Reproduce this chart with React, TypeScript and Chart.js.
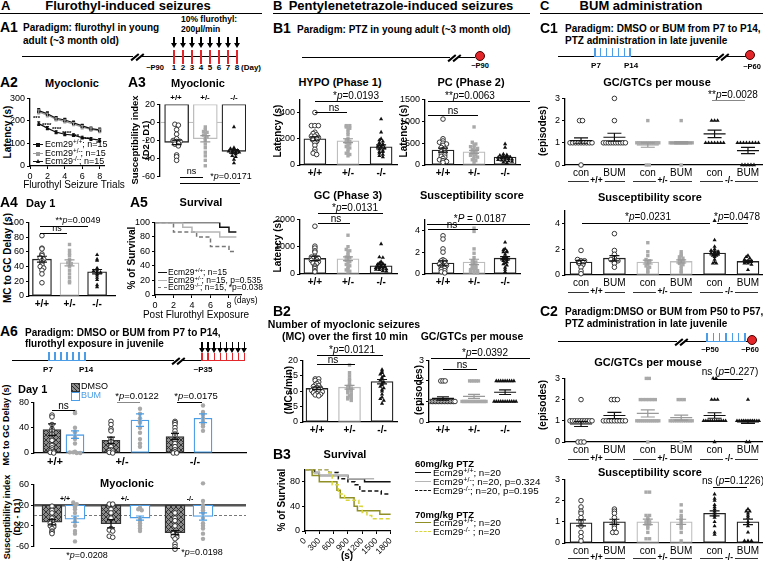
import React, { useEffect, useRef } from 'react';
import { Chart, registerables } from 'chart.js';
Chart.register(...registerables);

const FONT = "'Liberation Sans', Arial, Helvetica, sans-serif";
Chart.defaults.font.family = FONT;
Chart.defaults.font.size = 9;
Chart.defaults.color = '#000';

// ---------------- DATA ----------------
// A2 flurothyl trials (latency, s)
const A2_TRIALS = [1, 2, 3, 4, 5, 6, 7, 8];
const A2_WT = [246, 232, 212, 204, 192, 178, 166, 160];
const A2_HET = [240, 226, 207, 198, 186, 172, 162, 156];
const A2_KO = [188, 168, 150, 141, 137, 126, 120, 115];
const A2_WT_SEM = [9, 8, 7, 7, 7, 7, 7, 8];
const A2_HET_SEM = [9, 8, 7, 7, 7, 7, 7, 8];
const A2_KO_SEM = [8, 7, 6, 6, 6, 6, 6, 7];
const A2_XTICKS = [0, 2, 4, 6, 8];
const A2_YTICKS = [0, 100, 200, 300];

// A3 susceptibility index
const A3_WT = [-2, -3, -8, -13, -18, -20, -21, -21, -22, -23, -24, -26, -36, -38, -42];
const A3_HET = [-5, -8, -10, -11, -12, -14, -16, -18, -20, -24, -28, -33, -37, -42, -48];
const A3_KO = [-5, -28, -29, -30, -31, -32, -32, -33, -33, -34, -35, -37, -38, -41, -45];
const A3_MEAN = [-22, -18, -32];
const A3_SEM = [2.5, 3.5, 2];
const A3_YTICKS = [-60, -40, -20, 0, 20];

// A4 MC to GC delay, day 1
const A4_WT = [82, 65, 64, 57, 55, 52, 50, 48, 45, 42, 40, 38, 35, 30, 18];
const A4_HET = [70, 62, 58, 55, 50, 48, 45, 44, 42, 40, 35, 30, 25, 20, 18];
const A4_KO = [56, 50, 48, 38, 36, 34, 33, 32, 30, 28, 25, 22, 15, 12];
const A4_MEAN = [50, 45, 33];
const A4_SEM = [4, 4, 3];
const A4_YTICKS = [0, 20, 40, 60, 80, 100];

// A5 survival (days, %)
const A5_WT_T = [0, 7, 8, 8.8];
const A5_WT_S = [100, 93.3, 86.7, 86.7];
const A5_HET_T = [0, 3, 4, 7, 8.8];
const A5_HET_S = [100, 93.3, 86.7, 80, 80];
const A5_KO_T = [0, 2, 4.5, 6, 8, 8.8];
const A5_KO_S = [100, 86.7, 80, 66.7, 60, 60];
const A5_XTICKS = [0, 2, 4, 6, 8];
const A5_YTICKS = [0, 20, 40, 60, 80, 100];

// A6 (order: DMSO +/+, BUM +/+, DMSO +/-, BUM +/-, DMSO -/-, BUM -/-)
const A6_DAY1 = [
  [60, 57, 45, 38, 35, 30, 20, 12, 8, 5, 3, 2, 1, 0],
  [65, 63, 40, 33, 25, 22, 15, 2, 1, 1, 0, 0],
  [50, 45, 38, 35, 22, 18, 12, 10, 5, 4, 3, 1, 0],
  [70, 62, 55, 50, 48, 40, 32, 22, 15, 10],
  [50, 48, 45, 40, 35, 30, 28, 20, 15, 10, 5, 2, 0, 0],
  [75, 65, 62, 60, 55, 50, 48, 45, 42, 35],
];
const A6_DAY1_MEAN = [37, 29, 20, 52, 26, 55];
const A6_DAY1_SEM = [9, 6, 5, 10, 5, 7];
const A6_DAY1_YTICKS = [0, 20, 40, 60, 80];
const A6_MYO = [
  [18, 10, 5, -5, -10, -15, -18, -20, -22, -25, -30, -32, -35],
  [25, 22, 18, 15, 12, 5, -5, -12, -20, -30, -35, -50],
  [22, 22, 12, 5, -5, -25, -28, -30, -40, -42],
  [15, 12, 10, -5, -10, -15, -20, -25, -30],
  [5, -5, -10, -20, -35, -38, -40, -42, -45, -55, -60, -65],
  [62, 28, 20, 15, 10, 5, -5, -15, -20, -25, -35, -45],
];
const A6_MYO_MEAN = [-13, -7, -16, -5, -33, -2];
const A6_MYO_SEM = [5, 6, 8, 4, 4, 7];
const A6_MYO_YTICKS = [-60, -40, -20, 0, 20, 40, 60];
const A6_GENO = ['+/+', '+/-', '-/-'];

// B1
const HYPO_WT = [400, 300, 300, 300, 250, 240, 230, 220, 220, 210, 200, 200, 190, 180, 170, 150, 120, 100, 90, 80];
const HYPO_HET = [300, 300, 290, 280, 270, 250, 230, 200, 190, 180, 170, 160, 150, 140, 130, 120, 100, 90, 80, 70];
const HYPO_KO = [350, 250, 200, 190, 180, 170, 160, 150, 150, 140, 140, 130, 120, 110, 100, 100, 90, 80, 70, 60];
const HYPO_MEAN = [200, 185, 138];
const HYPO_SEM = [15, 15, 15];
const PC_WT = [1050, 600, 550, 520, 500, 480, 450, 400, 380, 350, 300, 280, 250, 230, 200, 180, 150, 120, 100, 80, 60];
const PC_HET = [870, 520, 480, 450, 420, 400, 380, 350, 330, 300, 280, 260, 240, 220, 200, 180, 150, 120, 100, 60];
const PC_KO = [480, 400, 250, 230, 220, 200, 190, 180, 170, 160, 150, 140, 130, 120, 110, 100, 90, 80, 60, 50];
const PC_MEAN = [340, 300, 180];
const PC_SEM = [45, 35, 25];
const GC_WT = [1750, 1020, 950, 850, 800, 650, 620, 600, 580, 560, 520, 500, 480, 450, 400, 380, 300, 250, 200, 120, 80];
const GC_HET = [1420, 1000, 900, 850, 800, 700, 650, 620, 600, 550, 500, 450, 400, 350, 300, 250, 200, 150, 100, 80];
const GC_KO = [1100, 620, 600, 450, 400, 380, 350, 330, 300, 280, 260, 250, 230, 220, 200, 180, 160, 150, 120, 100];
const GC_MEAN = [570, 560, 300];
const GC_SEM = [80, 70, 50];
const SS_WT = [3.5, 3.2, 2.3, 2.0, 1.3, 1.2, 1.2, 1.0, 1.0, 0.9, 0.8, 0.8, 0.7, 0.6, 0.5, 0.5, 0.4, 0.3, 0.2, 0.1];
const SS_HET = [4.2, 3.9, 2.3, 1.9, 1.5, 1.2, 1.1, 1.0, 0.9, 0.8, 0.7, 0.6, 0.5, 0.5, 0.4, 0.3, 0.3, 0.2, 0.1, 0.1];
const SS_KO = [2.9, 2.3, 2.2, 2.1, 2.0, 2.0, 1.8, 1.6, 1.5, 1.5, 1.4, 1.3, 1.2, 1.1, 1.0, 0.9, 0.8, 0.6, 0.4, 0.2];
const SS_MEAN = [1.0, 1.1, 1.45];
const SS_SEM = [0.2, 0.25, 0.15];
const B1_GENO = ['+/+', '+/-', '-/-'];

// B2
const MC_WT = [14, 14, 13.5, 13, 12.5, 12, 11.8, 11.5, 11.2, 11, 10.8, 10.5, 10.2, 10, 10, 9.8, 9.5, 9.2, 9, 8.8, 8.5];
const MC_HET = [18.5, 16, 15, 14, 13.5, 12.5, 12, 11.5, 11, 10.8, 10.5, 10.2, 10, 9.5, 9, 8.5, 8, 8, 7.5, 7];
const MC_KO = [17, 16.5, 16, 15.5, 15, 14.5, 14, 13.5, 13, 12.5, 12, 11.5, 11, 10.5, 10, 9, 8, 7.5, 7, 6];
const MC_MEAN = [10.9, 11.3, 13.1];
const MC_SEM = [0.4, 0.6, 0.7];
const GTC_WT = [2, 2, 2, 1, 1, 1, 1, 1, 1, 1, 1, 1, 1, 1, 1, 1, 1, 1, 1, 1];
const GTC_HET = [2, 2, 2, 2, 2, 1, 1, 1, 1, 1, 1, 1, 1, 1, 1, 1, 1, 1, 1, 1];
const GTC_KO = [2, 2, 2, 2, 2, 2, 2, 2, 2, 1, 1, 1, 1, 1, 1, 1, 1, 1, 1, 1];
const GTC_MEAN = [1.15, 1.25, 1.45];
const GTC_SEM = [0.08, 0.1, 0.11];

// B3 survival (s, %)
const B3_60_WT_T = [0, 200, 300, 900, 1250, 1800];
const B3_60_WT_S = [100, 95, 90, 85, 80, 80];
const B3_60_HET_T = [0, 150, 300, 900, 1450];
const B3_60_HET_S = [100, 95, 90, 85, 85];
const B3_60_KO_T = [0, 500, 700, 900, 1050, 1150, 1600, 1800];
const B3_60_KO_S = [100, 95, 85, 80, 75, 65, 60, 60];
const B3_70_WT_T = [0, 150, 300, 670, 740, 1030, 1100, 1570, 1800];
const B3_70_WT_S = [100, 90, 80, 66, 54, 40, 33, 27, 27];
const B3_70_KO_T = [0, 470, 570, 700, 830, 1130, 1200, 1300, 1400, 1800];
const B3_70_KO_S = [100, 95, 75, 60, 50, 40, 30, 25, 20, 20];
const B3_XTICKS = [0, 300, 600, 900, 1200, 1500, 1800];

// C (order: con +/+, BUM +/+, con +/-, BUM +/-, con -/-, BUM -/-)
const C_LABELS = ['con', 'BUM', 'con', 'BUM', 'con', 'BUM'];
const C1_GTC = [
  [2, 2, 1, 1, 1, 1, 1, 1, 1, 1, 1, 0],
  [3, 2, 1, 1, 1, 1, 1, 1, 1, 1, 1, 1],
  [2, 1, 1, 1, 1, 1, 1, 1, 1, 1, 1, 1, 1, 1, 0, 0],
  [2, 1, 1, 1, 1, 1, 1, 1, 1, 1, 1, 1, 1, 1, 1, 0],
  [2, 2, 2, 1, 1, 1, 1, 1, 1, 1],
  [1, 1, 1, 1, 1, 1, 1, 1, 0, 0, 0, 0, 0],
];
const C1_GTC_MEAN = [1.1, 1.25, 0.9, 1.0, 1.4, 0.65];
const C1_GTC_SEM = [0.12, 0.18, 0.1, 0.05, 0.17, 0.14];
const C1_SS = [
  [1.9, 1.2, 1.1, 1.1, 1.0, 1.0, 0.9, 0.8, 0.6, 0.3, 0.1],
  [3.2, 1.9, 1.6, 1.3, 1.2, 1.1, 1.1, 1.0, 0.9, 0.6],
  [2.5, 1.8, 1.5, 1.2, 1.1, 1.0, 1.0, 0.8, 0.7, 0.6, 0.5, 0.3, 0.2],
  [1.8, 1.6, 1.5, 1.4, 1.3, 1.2, 1.1, 1.0, 1.0, 0.9, 0.8, 0.7, 0.5, 0.3, 0.2],
  [4.2, 2.7, 2.2, 2.0, 1.9, 1.8, 1.8, 1.7, 1.6, 1.6, 1.5, 1.5, 1.4, 1.2, 1.0, 0.9, 0.9],
  [1.5, 1.4, 1.3, 1.2, 1.1, 1.1, 1.0, 1.0, 0.9, 0.9, 0.8, 0.4],
];
const C1_SS_MEAN = [1.0, 1.3, 1.0, 1.05, 1.7, 1.05];
const C1_SS_SEM = [0.13, 0.2, 0.15, 0.12, 0.15, 0.08];
const C2_GTC = [
  [2, 1, 1, 1, 1, 1, 1, 1, 1, 1, 1, 0, 0, 0],
  [2, 2, 2, 1, 1, 1, 1, 1, 1, 1, 1, 1],
  [3, 3, 2, 2, 2, 2, 2, 2, 1, 1, 1, 1, 1, 1, 1, 1, 1, 1, 1, 1, 0],
  [2, 2, 2, 1, 1, 1, 1, 1, 1, 1, 1, 1, 1, 1, 0],
  [3, 3, 2, 2, 2, 1, 1, 1, 1, 1, 1, 1, 1, 1, 1, 1, 0],
  [2, 1, 1, 1, 1, 1, 1, 1, 1, 1, 1, 1, 0, 0],
];
const C2_GTC_MEAN = [0.85, 1.25, 1.35, 1.15, 1.25, 0.95];
const C2_GTC_SEM = [0.12, 0.15, 0.17, 0.12, 0.13, 0.07];
const C2_SS = [
  [2.0, 1.7, 1.5, 1.4, 1.2, 1.0, 0.8, 0.5, 0.3, 0.1],
  [1.6, 1.5, 1.4, 1.2, 1.0, 0.9, 0.8, 0.7, 0.5, 0.5],
  [2.4, 2.4, 1.3, 1.3, 1.2, 1.1, 1.0, 1.0, 0.9, 0.9, 0.8, 0.7, 0.5, 0.2, 0.2],
  [1.8, 1.5, 1.3, 1.2, 1.1, 1.0, 0.9, 0.8, 0.7, 0.5, 0.1],
  [2.3, 2.1, 2.0, 1.8, 1.7, 1.6, 1.5, 1.4, 1.3, 1.2, 1.0, 0.8, 0.5, 0.4],
  [1.6, 1.5, 1.5, 1.4, 1.3, 1.2, 1.0, 0.9, 0.8, 0.5, 0.1, 0.1, 0.1],
];
const C2_SS_MEAN = [0.95, 1.0, 1.0, 1.0, 1.4, 1.0];
const C2_SS_SEM = [0.14, 0.12, 0.13, 0.12, 0.12, 0.13];

// ---------------- STYLE ----------------
const BLUE = '#4a9de6';
const RED = '#e3262a';
const OLIVE = '#8f8f25';
const YEL = '#d9d63a';
const GRAY = '#a9a9a9';
const PT_WT = { style: 'circle', fill: '#fff', stroke: '#222', r: 2.3, bw: 0.9 };
const PT_HET = { style: 'rect', fill: GRAY, stroke: GRAY, r: 2.4, bw: 0 };
const PT_KO = { style: 'triangle', fill: '#111', stroke: '#111', r: 2.4, bw: 0 };
const PT_BUM = { style: 'circle', fill: GRAY, stroke: GRAY, r: 2.2, bw: 0 };

function hatch(): any {
  const c = document.createElement('canvas');
  c.width = 5; c.height = 5;
  const g = c.getContext('2d')!;
  g.fillStyle = '#8c8c8c'; g.fillRect(0, 0, 5, 5);
  g.strokeStyle = '#2a2a2a'; g.lineWidth = 0.9;
  g.beginPath(); g.moveTo(0, 5); g.lineTo(5, 0); g.stroke();
  g.beginPath(); g.moveTo(0, 0); g.lineTo(5, 5); g.stroke();
  return g.createPattern(c, 'repeat');
}

// ---------------- HELPERS ----------------
function swarm(vals: number[], bin: number, step: number, maxHalf: number) {
  const keys = vals.map((v) => Math.round(v / bin));
  const tot = new Map<number, number>();
  keys.forEach((k) => tot.set(k, (tot.get(k) || 0) + 1));
  const seen = new Map<number, number>();
  return keys.map((k) => {
    const n = tot.get(k)!;
    const i = seen.get(k) || 0;
    seen.set(k, i + 1);
    let s = step;
    if (n > 1 && ((n - 1) * s) / 2 > maxHalf) s = (2 * maxHalf) / (n - 1);
    return (i - (n - 1) / 2) * s;
  });
}

function errPlugin(items: any[]) {
  return {
    id: 'errbars',
    afterDatasetsDraw(chart: any) {
      const ctx = chart.ctx, xs = chart.scales.x, ys = chart.scales.y;
      ctx.save();
      for (const it of items) {
        const px = xs.getPixelForValue(it.x);
        const pm = ys.getPixelForValue(it.m);
        const t = ys.getPixelForValue(it.m + it.e), b = ys.getPixelForValue(it.m - it.e);
        ctx.strokeStyle = it.c; ctx.lineWidth = it.lw || 1.2;
        ctx.beginPath();
        ctx.moveTo(px, t); ctx.lineTo(px, b);
        ctx.moveTo(px - it.cap, t); ctx.lineTo(px + it.cap, t);
        ctx.moveTo(px - it.cap, b); ctx.lineTo(px + it.cap, b);
        if (it.mh) { ctx.moveTo(px - it.mh, pm); ctx.lineTo(px + it.mh, pm); }
        ctx.stroke();
      }
      ctx.restore();
    },
  };
}
function hPlugin(items: any[]) {
  return {
    id: 'hlines',
    beforeDatasetsDraw(chart: any) {
      const ctx = chart.ctx, ys = chart.scales.y, a = chart.chartArea;
      ctx.save();
      for (const it of items) {
        const y = ys.getPixelForValue(it.y);
        ctx.strokeStyle = it.c; ctx.lineWidth = it.w; ctx.setLineDash(it.dash || []);
        ctx.beginPath(); ctx.moveTo(a.left, y); ctx.lineTo(a.right, y); ctx.stroke();
      }
      ctx.restore();
    },
  };
}

function yScale(min: number, max: number, ticks: number[], size = 9) {
  return {
    type: 'linear', min, max,
    afterBuildTicks: (s: any) => { s.ticks = ticks.map((v) => ({ value: v })); },
    ticks: { font: { size }, padding: 2, color: '#000', callback: (v: any) => String(v) },
    grid: { display: true, drawOnChartArea: false, drawTicks: true, tickLength: 3, color: '#000', lineWidth: 1 },
    border: { display: true, color: '#000', width: 1.3 },
  };
}
function xGroups(min: number, max: number, pos: number[], labels: string[] | null, font: any, border = true) {
  return {
    type: 'linear', min, max, offset: false,
    afterBuildTicks: (s: any) => { s.ticks = pos.map((v) => ({ value: v })); },
    ticks: { display: !!labels, autoSkip: false, maxRotation: 0, minRotation: 0, padding: 2, font, color: '#000',
      callback: (_v: any, i: number) => (labels ? labels[i] : '') },
    grid: { display: false, drawTicks: false, tickLength: 0 },
    border: { display: border, color: '#000', width: 1.3 },
  };
}
function xNum(min: number, max: number, ticks: number[], rot = 0, size = 9) {
  return {
    type: 'linear', min, max,
    afterBuildTicks: (s: any) => { s.ticks = ticks.map((v) => ({ value: v })); },
    ticks: { autoSkip: false, maxRotation: rot, minRotation: rot, padding: 2, font: { size }, color: '#000', callback: (v: any) => String(v) },
    grid: { display: true, drawOnChartArea: false, drawTicks: true, tickLength: 3, color: '#000' },
    border: { display: true, color: '#000', width: 1.3 },
  };
}

type Box = { pl: number; pr: number; pt: number; pb: number; yw?: number; xh?: number; padR?: number };

function ChartBox({ box, make }: { box: Box; make: () => any }) {
  const ref = useRef<HTMLCanvasElement>(null);
  const yw = box.yw ?? 22, xh = box.xh ?? 14, PT = 6, PR = box.padR ?? 5;
  const left = box.pl - yw, top = box.pt - PT;
  const w = Math.round(box.pr - box.pl + yw + PR), h = Math.round(box.pb - box.pt + PT + xh);
  useEffect(() => {
    const cfg = make();
    const o = cfg.options || (cfg.options = {});
    o.responsive = false; o.animation = false; o.maintainAspectRatio = false; o.events = [];
    o.layout = { padding: { top: PT, right: PR, left: 0, bottom: 0 }, autoPadding: false };
    o.plugins = { legend: { display: false }, tooltip: { enabled: false } };
    o.scales.x.afterFit = (s: any) => { s.height = xh; };
    o.scales.y.afterFit = (s: any) => { s.width = yw; };
    const c = new Chart(ref.current!, cfg);
    return () => c.destroy();
  }, []);
  return <canvas ref={ref} width={w} height={h} style={{ position: 'absolute', left, top, width: w, height: h }} />;
}

type Grp = { vals: number[]; mean: number; sem: number; pt: any; fill?: any; border?: string; err: string };
type Spec = {
  pos: number[]; xmin: number; xmax: number; ymin: number; ymax: number; yticks: number[];
  tickPos?: number[]; labels: string[] | null; labelFont?: any; xBorder?: boolean;
  groups: Grp[]; barPx?: number; base?: number; meanHalf?: number; cap: number;
  bin: number; stepPx: number; maxPx: number; hlines?: any[]; ySize?: number;
};

function groupConfig(box: Box, s: Spec) {
  const ppu = (box.pr - box.pl) / (s.xmax - s.xmin);
  const datasets: any[] = [];
  const errs: any[] = [];
  s.groups.forEach((g, gi) => {
    const offs = swarm(g.vals, s.bin, s.stepPx / ppu, s.maxPx / ppu);
    datasets.push({
      type: 'scatter', order: 1, clip: false,
      data: g.vals.map((v, i) => ({ x: s.pos[gi] + offs[i], y: v })),
      pointStyle: g.pt.style, pointRadius: g.pt.r, pointBackgroundColor: g.pt.fill,
      pointBorderColor: g.pt.stroke, pointBorderWidth: g.pt.bw, showLine: false,
    });
    errs.push({ x: s.pos[gi], m: g.mean, e: g.sem, c: g.err, cap: s.cap, mh: s.meanHalf || 0, lw: 1.2 });
  });
  if (s.barPx) {
    datasets.push({
      type: 'bar', order: 10, grouped: false,
      data: s.groups.map((g, gi) => ({ x: s.pos[gi], y: s.base != null ? [s.base, g.mean] : g.mean })),
      backgroundColor: s.groups.map((g) => g.fill ?? '#fff'),
      borderColor: s.groups.map((g) => g.border ?? '#222'),
      borderWidth: 1.3, barThickness: s.barPx, borderSkipped: false,
    });
  }
  return {
    type: 'scatter',
    data: { datasets },
    options: {
      scales: {
        x: xGroups(s.xmin, s.xmax, s.tickPos || s.pos, s.labels, s.labelFont || { size: 10, weight: 'bold' }, s.xBorder !== false),
        y: yScale(s.ymin, s.ymax, s.yticks, s.ySize || 9),
      },
    },
    plugins: [errPlugin(errs), hPlugin(s.hlines || [])],
  };
}

function GroupPanel({ box, spec }: { box: Box; spec: Spec }) {
  return <ChartBox box={box} make={() => groupConfig(box, spec)} />;
}

function stepDs(T: number[], S: number[], color: string, dash: number[] = [], w = 1.5) {
  return {
    type: 'line', data: T.map((t, i) => ({ x: t, y: S[i] })), stepped: 'before',
    borderColor: color, borderWidth: w, borderDash: dash, pointRadius: 0, fill: false,
  };
}

// ---------------- HTML bits ----------------
function T({ x, y, s = 9, b = false, a = 'l', c = '#000', bg, children }: any) {
  const tx = a === 'c' ? '-50%' : a === 'r' ? '-100%' : '0';
  return (
    <div style={{ position: 'absolute', left: x, top: y, transform: `translate(${tx}, -50%)`, fontSize: s,
      fontWeight: b ? 700 : 400, color: c, whiteSpace: 'nowrap', lineHeight: 1.1, background: bg, padding: bg ? '0 2px' : 0 }}>
      {children}
    </div>
  );
}
function RT({ x, y, s = 10, b = true, children }: any) {
  return (
    <div style={{ position: 'absolute', left: x, top: y, transform: 'translate(-50%, -50%) rotate(-90deg)', fontSize: s,
      fontWeight: b ? 700 : 400, whiteSpace: 'nowrap', lineHeight: 1 }}>
      {children}
    </div>
  );
}
function HL({ x1, x2, y, w = 1, c = '#000', dash = false }: any) {
  return <div style={{ position: 'absolute', left: x1, top: y - w / 2, width: x2 - x1, height: 0, borderTop: `${w}px ${dash ? 'dashed' : 'solid'} ${c}` }} />;
}
function VL({ x, y1, y2, w = 1, c = '#000' }: any) {
  return <div style={{ position: 'absolute', left: x - w / 2, top: y1, width: w, height: y2 - y1, background: c }} />;
}
function Arrow({ x, y1, y2 }: any) {
  return (
    <>
      <div style={{ position: 'absolute', left: x - 0.75, top: y1, width: 1.5, height: y2 - y1 - 4, background: '#000' }} />
      <div style={{ position: 'absolute', left: x - 3.5, top: y2 - 5, width: 0, height: 0, borderLeft: '3.5px solid transparent', borderRight: '3.5px solid transparent', borderTop: '5px solid #000' }} />
    </>
  );
}
function Hash({ x, y }: any) {
  return (
    <>
      <div style={{ position: 'absolute', left: x - 4, top: y - 3, width: 8, height: 6, background: '#fff' }} />
      <div style={{ position: 'absolute', left: x - 3.5, top: y - 5, width: 1.6, height: 10, background: '#000', transform: 'rotate(50deg)' }} />
      <div style={{ position: 'absolute', left: x + 1.5, top: y - 5, width: 1.6, height: 10, background: '#000', transform: 'rotate(50deg)' }} />
    </>
  );
}
function Dot({ x, y, r = 5 }: any) {
  return <div style={{ position: 'absolute', left: x - r, top: y - r, width: 2 * r, height: 2 * r, borderRadius: '50%', background: RED, border: '1.3px solid #400', boxSizing: 'border-box' }} />;
}
function BlueTicks({ x0, x1, y, n = 7 }: any) {
  const xs = Array.from({ length: n }, (_, i) => x0 + ((x1 - x0) * i) / (n - 1));
  return (
    <>
      <HL x1={x0} x2={x1} y={y} w={1.5} c={BLUE} />
      {xs.map((x, i) => <VL key={i} x={x} y1={y - 9} y2={y} w={1.3} c={BLUE} />)}
    </>
  );
}
const Sup = ({ children }: any) => <span style={{ fontSize: '0.7em', position: 'relative', top: '-0.45em' }}>{children}</span>;
const P = () => <i>p</i>;
function Bracket({ x1, x2, y, text, tx, ty, c = '#000', s = 9 }: any) {
  return (
    <>
      <HL x1={x1} x2={x2} y={y} w={1} c={c} />
      <T x={tx ?? (x1 + x2) / 2} y={ty ?? y - 5} a="c" s={s}>{text}</T>
    </>
  );
}
function GenoRow({ y }: any) {
  const segs = [[568, 625, '+/+'], [633, 692, '+/-'], [700, 758, '-/-']] as any[];
  return (
    <>
      {segs.map((g, i) => (
        <React.Fragment key={i}>
          <HL x1={g[0]} x2={g[1]} y={y} w={0.8} c="#333" />
          <T x={(g[0] + g[1]) / 2} y={y} a="c" b s={8.5} bg="#fff">{g[2]}</T>
        </React.Fragment>
      ))}
    </>
  );
}

// ---------------- PANELS ----------------
const BOX_A2: Box = { pl: 30, pr: 104, pt: 97, pb: 166, yw: 20, xh: 13 };
function A2Chart() {
  const mk = () => {
    const ds = [
      { data: A2_TRIALS.map((t, i) => ({ x: t, y: A2_WT[i] })), c: '#111', pt: 'rect' },
      { data: A2_TRIALS.map((t, i) => ({ x: t, y: A2_HET[i] })), c: '#9a9a9a', pt: 'rect' },
      { data: A2_TRIALS.map((t, i) => ({ x: t, y: A2_KO[i] })), c: '#111', pt: 'triangle' },
    ].map((d) => ({ type: 'line', data: d.data, borderColor: d.c, borderWidth: 1.2, pointStyle: d.pt, pointRadius: 2.2,
      pointBackgroundColor: d.c, pointBorderColor: d.c, pointBorderWidth: 0, fill: false, clip: false }));
    const errs: any[] = [];
    A2_TRIALS.forEach((t, i) => {
      errs.push({ x: t, m: A2_WT[i], e: A2_WT_SEM[i], c: '#111', cap: 1.5 });
      errs.push({ x: t, m: A2_HET[i], e: A2_HET_SEM[i], c: '#9a9a9a', cap: 1.5 });
      errs.push({ x: t, m: A2_KO[i], e: A2_KO_SEM[i], c: '#111', cap: 1.5 });
    });
    return { type: 'line', data: { datasets: ds }, options: { scales: { x: xNum(0, 8.5, A2_XTICKS), y: yScale(0, 300, A2_YTICKS) } }, plugins: [errPlugin(errs)] };
  };
  return <ChartBox box={BOX_A2} make={mk} />;
}

const BOX_A5: Box = { pl: 155, pr: 241, pt: 221, pb: 295, yw: 22, xh: 13 };
function A5Chart() {
  const mk = () => ({
    type: 'line',
    data: { datasets: [stepDs(A5_HET_T, A5_HET_S, '#b5b5b5'), stepDs(A5_KO_T, A5_KO_S, '#777', [4, 2.5]), stepDs(A5_WT_T, A5_WT_S, '#111')] },
    options: { scales: { x: xNum(0, 9.3, A5_XTICKS), y: yScale(0, 100, A5_YTICKS) } },
  });
  return <ChartBox box={BOX_A5} make={mk} />;
}

const BOX_B3: Box = { pl: 305, pr: 395, pt: 468, pb: 531, yw: 22, xh: 24 };
function B3Chart() {
  const mk = () => ({
    type: 'line',
    data: { datasets: [
      stepDs(B3_70_KO_T, B3_70_KO_S, YEL, [4, 2.5]),
      stepDs(B3_70_WT_T, B3_70_WT_S, OLIVE),
      stepDs(B3_60_HET_T, B3_60_HET_S, '#b5b5b5'),
      stepDs(B3_60_KO_T, B3_60_KO_S, '#111', [4, 2.5]),
      stepDs(B3_60_WT_T, B3_60_WT_S, '#111'),
    ] },
    options: { scales: { x: xNum(0, 1800, B3_XTICKS, 45, 8.5), y: yScale(0, 100, [0, 20, 40, 60, 80, 100]) } },
  });
  return <ChartBox box={BOX_B3} make={mk} />;
}

function geno3(vals: number[][], mean: number[], sem: number[]): Grp[] {
  return [
    { vals: vals[0], mean: mean[0], sem: sem[0], pt: PT_WT, border: '#222', err: '#111' },
    { vals: vals[1], mean: mean[1], sem: sem[1], pt: PT_HET, border: '#bdbdbd', err: '#999' },
    { vals: vals[2], mean: mean[2], sem: sem[2], pt: PT_KO, border: '#222', err: '#111' },
  ];
}
function geno6(vals: number[][], mean: number[], sem: number[]): Grp[] {
  const pts = [PT_WT, PT_WT, PT_HET, PT_HET, PT_KO, PT_KO];
  const bd = ['#222', '#222', '#bdbdbd', '#bdbdbd', '#222', '#222'];
  const er = ['#111', '#111', '#999', '#999', '#111', '#111'];
  return vals.map((v, i) => ({ vals: v, mean: mean[i], sem: sem[i], pt: pts[i], border: bd[i], err: er[i] }));
}
function a6Groups(vals: number[][], mean: number[], sem: number[], hp: any): Grp[] {
  return vals.map((v, i) => {
    const dmso = i % 2 === 0;
    return { vals: v, mean: mean[i], sem: sem[i], pt: dmso ? PT_WT : PT_BUM, fill: dmso ? hp : '#fff', border: dmso ? '#333' : BLUE, err: dmso ? '#111' : BLUE };
  });
}

const POS3 = [0, 1, 2];
const POS6 = [0, 1, 2, 3, 4, 5];
const A6_POS = [18, 41, 77, 106, 141, 169];
const A6_LAB_POS = [21, 88, 161];

export default function App() {
  const hp = typeof document !== 'undefined' ? hatch() : '#888';
  const bx = (pl: number, pr: number, pt: number, pb: number, yw = 22, xh = 14, padR = 5): Box => ({ pl, pr, pt, pb, yw, xh, padR });
  const cSpec = (vals: number[][], mean: number[], sem: number[], ymax: number, yt: number[], bar: boolean): Spec => ({
    pos: POS6, xmin: -0.48, xmax: 5.42, ymin: 0, ymax, yticks: yt, labels: C_LABELS, labelFont: { size: 10 },
    groups: geno6(vals, mean, sem), barPx: bar ? 22 : 0, meanHalf: bar ? 0 : 11, cap: bar ? 5 : 7,
    bin: bar ? ymax / 30 : 0.5, stepPx: bar ? 3.5 : 3, maxPx: bar ? 9 : 11,
  });
  const bSpec = (vals: number[][], mean: number[], sem: number[], xmin: number, xmax: number, ymax: number, yt: number[], bar = true): Spec => ({
    pos: POS3, xmin, xmax, ymin: 0, ymax, yticks: yt, labels: B1_GENO,
    groups: geno3(vals, mean, sem), barPx: bar ? 22 : 0, meanHalf: bar ? 0 : 11, cap: bar ? 5 : 6,
    bin: bar ? ymax / 30 : 0.5, stepPx: bar ? 3.5 : 2.2, maxPx: bar ? 9 : 12,
  });

  return (
    <div style={{ position: 'absolute', left: 0, top: 0, width: 763, height: 562, overflow: 'hidden', background: '#fff', fontFamily: FONT, color: '#000' }}>
      {/* ===== Section headers ===== */}
      <T x={1} y={6} s={13} b>A</T>
      <T x={128} y={6} s={13} b a="c">Flurothyl-induced seizures</T>
      <HL x1={0} x2={262} y={13.5} w={1.5} />
      <T x={273} y={6} s={13} b>B</T>
      <T x={401} y={6} s={13} b a="c">Pentylenetetrazole-induced seizures</T>
      <HL x1={273} x2={530} y={13.5} w={1.5} />
      <T x={540} y={6} s={13} b>C</T>
      <T x={641} y={6} s={13} b a="c">BUM administration</T>
      <HL x1={540} x2={763} y={13.5} w={1.5} />

      {/* ===== A1 ===== */}
      <T x={0} y={28} s={14} b>A1</T>
      <T x={23} y={27} s={10} b>Paradigm: flurothyl in young</T>
      <T x={23} y={40} s={10} b>adult (~3 month old)</T>
      <T x={181} y={20} s={8.5} b>10% flurothyl:</T>
      <T x={181} y={30} s={8.5} b>200μl/min</T>
      <HL x1={22} x2={237} y={57} w={1.5} />
      <Hash x={137} y={57} />
      {Array.from({ length: 8 }, (_, i) => (
        <React.Fragment key={i}>
          <VL x={174 + 9 * i} y1={50} y2={64} w={1.5} c={RED} />
          <Arrow x={174 + 9 * i} y1={37} y2={48} />
          <T x={174 + 9 * i} y={68} s={8} b a="c">{i + 1}</T>
        </React.Fragment>
      ))}
      <T x={155} y={68} s={7.5} b a="c">~P90</T>
      <T x={241} y={68} s={8} b>(Day)</T>

      {/* ===== A2 ===== */}
      <T x={0} y={83} s={14} b>A2</T>
      <T x={72} y={83} s={11} b a="c">Myoclonic</T>
      <RT x={8} y={132} s={10}>Latency (s)</RT>
      <A2Chart />
      <T x={74} y={184} s={10} a="c">Flurothyl Seizure Trials</T>
      <T x={33} y={118} s={6} b>***</T>
      <T x={42} y={125} s={6} b>****</T>
      <T x={52} y={129} s={6} b>****</T>
      <T x={62} y={133} s={6} b>****</T>
      <T x={72} y={136} s={6} b>***</T>
      <T x={82} y={139} s={6} b>***</T>
      <T x={96} y={143} s={6} b>**</T>
      {[
        ['#111', 'rect', '+/+', 'n=15'],
        ['#9a9a9a', 'rect', '+/-', 'n=15'],
        ['#111', 'tri', '-/-', 'n=15'],
      ].map((r, i) => (
        <React.Fragment key={i}>
          <HL x1={33} x2={43} y={145 + 8.5 * i} w={1.2} c={r[0]} />
          {r[1] === 'rect'
            ? <div style={{ position: 'absolute', left: 36, top: 143 + 8.5 * i, width: 4, height: 4, background: r[0] }} />
            : <div style={{ position: 'absolute', left: 35.5, top: 142 + 8.5 * i, width: 0, height: 0, borderLeft: '2.5px solid transparent', borderRight: '2.5px solid transparent', borderBottom: `4.5px solid ${r[0]}` }} />}
          <T x={45} y={145 + 8.5 * i} s={9}>Ecm29<Sup>{r[2]}</Sup>; {r[3]}</T>
        </React.Fragment>
      ))}

      {/* ===== A3 ===== */}
      <T x={128} y={83} s={14} b>A3</T>
      <T x={198} y={83} s={11} b a="c">Myoclonic</T>
      <RT x={135} y={140} s={9.5}>Susceptibility index</RT>
      <RT x={146} y={140} s={9.5}>(D2 - D1)</RT>
      <T x={176} y={98} s={8} b a="c">+/+</T>
      <T x={205} y={98} s={8} b a="c">+/-</T>
      <T x={234} y={98} s={8} b a="c">-/-</T>
      <GroupPanel box={bx(160, 246, 103, 182, 18, 2)} spec={{
        pos: POS3, xmin: -0.58, xmax: 2.42, ymin: -60, ymax: 20, yticks: A3_YTICKS, labels: null, xBorder: false,
        groups: geno3([A3_WT, A3_HET, A3_KO], A3_MEAN, A3_SEM), barPx: 24, base: 20, cap: 5,
        bin: 2.5, stepPx: 3.5, maxPx: 9, hlines: [{ y: 0, c: '#aaa', w: 0.8 }],
      }} />
      <Bracket x1={180} x2={203} y={177} text="ns" />
      <HL x1={180} x2={240} y={183} w={1} />
      <T x={231} y={177} s={9} a="c">*<P />=0.0171</T>

      {/* ===== A4 ===== */}
      <T x={0} y={203} s={14} b>A4</T>
      <T x={26} y={203} s={11} b>Day 1</T>
      <RT x={8} y={258} s={10}>MC to GC Delay (s)</RT>
      <GroupPanel box={bx(29, 115, 221, 296, 20, 14)} spec={{
        pos: POS3, xmin: -0.47, xmax: 2.65, ymin: 0, ymax: 100, yticks: A4_YTICKS, labels: B1_GENO,
        groups: geno3([A4_WT, A4_HET, A4_KO], A4_MEAN, A4_SEM), barPx: 19, cap: 5,
        bin: 3, stepPx: 3.5, maxPx: 8,
      }} />
      <Bracket x1={40} x2={88} y={226} text={<>**<P />=0.0049</>} tx={78} ty={221} />
      <Bracket x1={40} x2={67} y={233} text="ns" tx={57} ty={229} />

      {/* ===== A5 ===== */}
      <T x={130} y={203} s={14} b>A5</T>
      <T x={201} y={202} s={11} b a="c">Survival</T>
      <RT x={132} y={258} s={10}>% of Survival</RT>
      <A5Chart />
      <T x={234} y={301} s={8.5}>(days)</T>
      <T x={196} y={314} s={10} a="c">Post Flurothyl Exposure</T>
      {[
        ['#111', false, '+/+', '; n=15'],
        ['#b5b5b5', false, '+/-', '; n=15, p=0.535'],
        ['#777', true, '-/-', '; n=15, *p=0.038'],
      ].map((r: any, i) => (
        <React.Fragment key={i}>
          <HL x1={158} x2={167} y={273 + 7.5 * i} w={1.5} c={r[0]} dash={r[1]} />
          <T x={168} y={273 + 7.5 * i} s={8.5}>Ecm29<Sup>{r[2]}</Sup>{r[3]}</T>
        </React.Fragment>
      ))}

      {/* ===== A6 ===== */}
      <T x={0} y={332} s={14} b>A6</T>
      <T x={25} y={332} s={10} b>Paradigm: DMSO or BUM from P7 to P14,</T>
      <T x={25} y={343} s={10} b>flurothyl exposure in juvenile</T>
      <HL x1={12} x2={245} y={361} w={1.5} />
      <BlueTicks x0={49} x1={85} y={361} />
      <Hash x={178} y={361} />
      <HL x1={202} x2={245} y={361} w={1.5} c={RED} />
      {Array.from({ length: 8 }, (_, i) => (
        <React.Fragment key={i}>
          <VL x={202 + 6.1 * i} y1={353} y2={361} w={1.3} c={RED} />
          <Arrow x={202 + 6.1 * i} y1={342} y2={353} />
        </React.Fragment>
      ))}
      <T x={48} y={370} s={8} b a="c">P7</T>
      <T x={86} y={370} s={8} b a="c">P14</T>
      <T x={203} y={370} s={8} b a="c">~P35</T>

      <T x={18} y={389} s={11} b>Day 1</T>
      <div style={{ position: 'absolute', left: 71, top: 383, width: 7, height: 7, border: '1px solid #333', background: 'repeating-linear-gradient(45deg, #2a2a2a 0 1px, #8c8c8c 1px 3px)' }} />
      <T x={81} y={387} s={9}>DMSO</T>
      <div style={{ position: 'absolute', left: 71, top: 392, width: 7, height: 7, border: `1.2px solid ${BLUE}`, background: '#fff' }} />
      <T x={81} y={396} s={9} c={BLUE}>BUM</T>
      <RT x={6} y={425} s={9}>MC to GC Delay (s)</RT>
      <GroupPanel box={bx(34, 246, 401, 453, 18, 15)} spec={{
        pos: A6_POS, tickPos: A6_LAB_POS, xmin: 0, xmax: 212, ymin: 0, ymax: 80, yticks: A6_DAY1_YTICKS, labels: A6_GENO,
        labelFont: { size: 11, weight: 'bold' },
        groups: a6Groups(A6_DAY1, A6_DAY1_MEAN, A6_DAY1_SEM, hp), barPx: 18, cap: 4,
        bin: 3, stepPx: 3.5, maxPx: 7,
      }} />
      <Bracket x1={52} x2={75} y={410} text="ns" ty={405} s={10} />
      <Bracket x1={117} x2={140} y={402} text={<>*<P />=0.0122</>} tx={137} ty={396} s={9.5} c="#888" />
      <Bracket x1={177} x2={202} y={402} text={<>*<P />=0.0175</>} tx={196} ty={396} s={9.5} />

      <T x={127} y={483} s={11} b a="c">Myoclonic</T>
      <RT x={7} y={517} s={9}>Susceptibility index</RT>
      <RT x={17} y={517} s={9}>(D2 - D1)</RT>
      <GroupPanel box={bx(34, 246, 483, 552, 18, 2)} spec={{
        pos: A6_POS, xmin: 0, xmax: 212, ymin: -60, ymax: 60, yticks: A6_MYO_YTICKS, labels: null, xBorder: false,
        groups: a6Groups(A6_MYO, A6_MYO_MEAN, A6_MYO_SEM, hp), barPx: 20, base: 20, cap: 4,
        bin: 4, stepPx: 3.5, maxPx: 8,
        hlines: [{ y: 20, c: '#555', w: 2.5 }, { y: 0, c: '#555', w: 0.8, dash: [3, 2] }],
      }} />
      <T x={65} y={499} s={7} b a="c">+/+</T>
      <T x={125} y={499} s={7} b a="c">+/-</T>
      <T x={190} y={499} s={7} b a="c">-/-</T>
      <HL x1={50} x2={180} y={548} w={1} />
      <T x={87} y={556} s={9} a="c">*<P />=0.0208</T>
      <T x={202} y={553} s={9} a="c">*<P />=0.0198</T>

      {/* ===== B1 ===== */}
      <T x={273} y={29} s={14} b>B1</T>
      <T x={297} y={29} s={10} b>Paradigm: PTZ in young adult (~3 month old)</T>
      <HL x1={302} x2={475} y={58} w={1.5} />
      <Hash x={454} y={58} />
      <Dot x={480} y={56} r={5} />
      <T x={480} y={66} s={7.5} b a="c">~P90</T>

      <T x={340} y={82} s={11} b a="c">HYPO (Phase 1)</T>
      <RT x={278} y={131} s={10}>Latency (s)</RT>
      <GroupPanel box={bx(300, 397, 98, 165, 24, 14)} spec={bSpec([HYPO_WT, HYPO_HET, HYPO_KO], HYPO_MEAN, HYPO_SEM, -0.45, 2.48, 500, [0, 100, 200, 300, 400, 500])} />
      <Bracket x1={315} x2={383} y={101} text={<>*<P />=0.0193</>} tx={356} ty={95} s={10} />
      <Bracket x1={315} x2={347} y={112} text="ns" tx={334} ty={107} s={10} />

      <T x={471} y={82} s={11} b a="c">PC (Phase 2)</T>
      <RT x={404} y={131} s={10}>Latency (s)</RT>
      <GroupPanel box={bx(425, 520, 98, 165, 26, 14)} spec={bSpec([PC_WT, PC_HET, PC_KO], PC_MEAN, PC_SEM, -0.58, 2.48, 1500, [0, 500, 1000, 1500])} />
      <Bracket x1={428} x2={530} y={101} text={<>**<P />=0.0063</>} tx={470} ty={95} s={10} />
      <Bracket x1={428} x2={478} y={115} text="ns" tx={453} ty={110} s={10} />

      <T x={348} y={195} s={11} b a="c">GC (Phase 3)</T>
      <RT x={278} y={246} s={10}>Latency (s)</RT>
      <GroupPanel box={bx(300, 397, 218, 274, 26, 14)} spec={bSpec([GC_WT, GC_HET, GC_KO], GC_MEAN, GC_SEM, -0.45, 2.48, 2000, [0, 500, 1000, 1500, 2000])} />
      <Bracket x1={318} x2={383} y={213} text={<>*<P />=0.0131</>} tx={355} ty={207} s={10} />
      <Bracket x1={318} x2={350} y={223} text="ns" tx={336} ty={218} s={10} />

      <T x={472} y={195} s={11} b a="c">Susceptibility score</T>
      <GroupPanel box={bx(425, 520, 218, 274, 14, 14)} spec={bSpec([SS_WT, SS_HET, SS_KO], SS_MEAN, SS_SEM, -0.58, 2.48, 5, [0, 1, 2, 3, 4, 5])} />
      <Bracket x1={427} x2={530} y={224} text={<>*<i>P</i> = 0.0187</>} tx={480} ty={218} s={10} />
      <Bracket x1={428} x2={478} y={229} text="ns" tx={452} ty={224} s={10} />

      {/* ===== B2 ===== */}
      <T x={273} y={312} s={14} b>B2</T>
      <T x={344} y={325} s={10.5} b a="c">Number of myoclonic seizures</T>
      <T x={345} y={337} s={10.5} b a="c">(MC) over the first 10 min</T>
      <RT x={289} y={390} s={10}>(MCs/min)</RT>
      <GroupPanel box={bx(303, 397, 359, 422, 18, 14)} spec={bSpec([MC_WT, MC_HET, MC_KO], MC_MEAN, MC_SEM, -0.43, 2.46, 20, [0, 5, 10, 15, 20])} />
      <Bracket x1={317} x2={383} y={355} text={<>*<P />=0.0121</>} tx={352} ty={349} s={10} />
      <Bracket x1={317} x2={355} y={364} text="ns" tx={333} ty={359} s={10} />

      <T x={472} y={337} s={10.5} b a="c">GC/GTCs per mouse</T>
      <RT x={419} y={390} s={10}>(episodes)</RT>
      <GroupPanel box={bx(429, 520, 359, 422, 12, 14)} spec={bSpec([GTC_WT, GTC_HET, GTC_KO], GTC_MEAN, GTC_SEM, -0.45, 2.48, 3, [0, 1, 2, 3], false)} />
      <Bracket x1={431} x2={530} y={358} text={<>*<P />=0.0392</>} tx={485} ty={352} s={10} />
      <Bracket x1={443} x2={477} y={369} text="ns" tx={462} ty={364} s={10} />

      {/* ===== B3 ===== */}
      <T x={273} y={455} s={14} b>B3</T>
      <T x={345} y={454} s={11} b a="c">Survival</T>
      <RT x={282} y={500} s={10}>% of Survival</RT>
      <B3Chart />
      <T x={347} y={555} s={10} b a="c">(s)</T>
      <T x={415} y={464} s={9.5} b>60mg/kg PTZ</T>
      {[
        ['#111', false, '+/+', '; n=20'],
        ['#b5b5b5', false, '+/-', '; n=20, p=0.324'],
        ['#111', true, '-/-', '; n=20, p=0.195'],
      ].map((r: any, i) => (
        <React.Fragment key={i}>
          <HL x1={415} x2={431} y={473 + 9 * i} w={1.6} c={r[0]} dash={r[1]} />
          <T x={433} y={473 + 9 * i} s={9.8}>Ecm29<Sup>{r[2]}</Sup>{r[3]}</T>
        </React.Fragment>
      ))}
      <T x={415} y={515} s={9.5} b>70mg/kg PTZ</T>
      <HL x1={415} x2={431} y={523} w={1.6} c={OLIVE} />
      <T x={433} y={523} s={9.8}>Ecm29<Sup>+/+</Sup>; n=20</T>
      <HL x1={415} x2={431} y={532} w={1.6} c={YEL} dash />
      <T x={433} y={532} s={9.8}>Ecm29<Sup>-/-</Sup> ; n=20</T>

      {/* ===== C1 ===== */}
      <T x={540} y={29} s={14} b>C1</T>
      <T x={565} y={28} s={10} b>Paradigm: DMSO or BUM from P7 to P14,</T>
      <T x={565} y={40} s={10} b>PTZ administration in late juvenile</T>
      <HL x1={558} x2={748} y={57} w={1.5} />
      <BlueTicks x0={595} x1={630} y={57} />
      <Hash x={722} y={57} />
      <Dot x={750} y={55} r={5} />
      <T x={596} y={66} s={8} b a="c">P7</T>
      <T x={631} y={66} s={8} b a="c">P14</T>
      <T x={752} y={67} s={7.5} b a="c">~P60</T>

      <T x={657} y={82} s={11} b a="c">GC/GTCs per mouse</T>
      <RT x={543} y={131} s={10}>(episodes)</RT>
      <GroupPanel box={bx(565, 762, 97, 165, 12, 13, 1)} spec={cSpec(C1_GTC, C1_GTC_MEAN, C1_GTC_SEM, 3, [0, 1, 2, 3], false)} />
      <HL x1={712} x2={745} y={100} w={1} c="#888" />
      <T x={733} y={94} s={10} a="c">**<P />=0.0028</T>
      <GenoRow y={181} />

      <T x={650} y={197} s={11} b a="c">Susceptibility score</T>
      <GroupPanel box={bx(565, 762, 209, 275, 12, 13, 1)} spec={cSpec(C1_SS, C1_SS_MEAN, C1_SS_SEM, 5, [0, 1, 2, 3, 4, 5], true)} />
      <Bracket x1={582} x2={710} y={223} text={<>*<P />=0.0231</>} tx={648} ty={216} s={10} />
      <Bracket x1={717} x2={748} y={223} text={<>*<P />=0.0478</>} tx={737} ty={216} s={10} />
      <GenoRow y={292} />

      {/* ===== C2 ===== */}
      <T x={540} y={312} s={14} b>C2</T>
      <T x={565} y={311} s={10} b>Paradigm:DMSO or BUM from P50 to P57,</T>
      <T x={565} y={323} s={10} b>PTZ administration in late juvenile</T>
      <HL x1={558} x2={750} y={342} w={1.5} />
      <Hash x={681} y={342} />
      <BlueTicks x0={707} x1={745} y={342} />
      <Dot x={752} y={340} r={5} />
      <T x={710} y={350} s={7.5} b a="c">~P50</T>
      <T x={750} y={350} s={7.5} b a="c">~P60</T>

      <T x={648} y={362} s={11} b a="c">GC/GTCs per mouse</T>
      <RT x={543} y={405} s={10}>(episodes)</RT>
      <GroupPanel box={bx(565, 762, 377, 442, 12, 13, 1)} spec={cSpec(C2_GTC, C2_GTC_MEAN, C2_GTC_SEM, 3, [0, 1, 2, 3], false)} />
      <Bracket x1={713} x2={743} y={379} text={<>ns (<P />=0.227)</>} tx={730} ty={371} s={10} />
      <GenoRow y={459} />

      <T x={650} y={472} s={11} b a="c">Susceptibility score</T>
      <GroupPanel box={bx(565, 762, 478, 543, 12, 13, 1)} spec={cSpec(C2_SS, C2_SS_MEAN, C2_SS_SEM, 3, [0, 1, 2, 3], true)} />
      <Bracket x1={713} x2={747} y={487} text={<>ns (<P />=0.1226)</>} tx={733} ty={480} s={10} />
      <GenoRow y={558} />
    </div>
  );
}
